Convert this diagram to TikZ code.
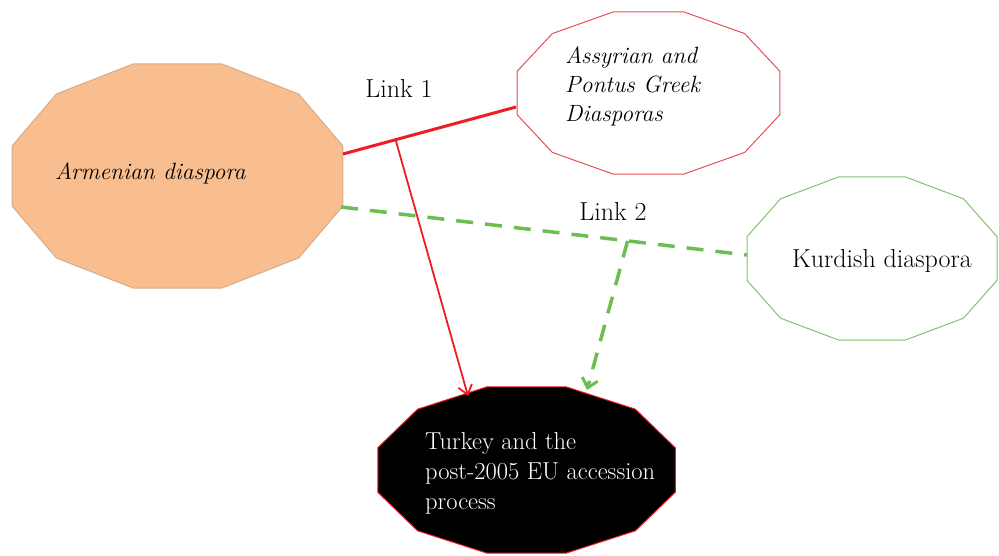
\documentclass[tikz,border=0pt]{standalone}
\usetikzlibrary{arrows.meta,calc}
\definecolor{peach}{RGB}{249,190,143}
\definecolor{peachborder}{RGB}{215,172,138}
\definecolor{redline}{RGB}{238,28,36}
\definecolor{asyborder}{RGB}{228,80,90}
\definecolor{kurborder}{RGB}{130,195,115}
\definecolor{greenline}{RGB}{108,190,80}
\newcommand{\mydodec}[5]{\draw[#5] plot[samples at={15,45,...,345}] ({#1+#3*cos(\x)},{#2+#4*sin(\x)}) -- cycle;}
\begin{document}
\begin{tikzpicture}[x=1pt,y=-1pt,
  lbl/.style={inner sep=0pt, font=\fontsize{26}{29}\selectfont, align=left},
  ilbl/.style={inner sep=0pt, font=\fontsize{23.5}{29}\selectfont\itshape, align=left},
  linkone/.style={draw=redline, line width=3pt},
  redarrow/.style={draw=redline, line width=1.8pt, -{Straight Barb[length=9pt,width=14pt,line width=1.8pt]}},
  greendash/.style={draw=greenline, line width=3.5pt, dash pattern=on 17pt off 12pt},
  greenarrow/.style={draw=greenline, line width=3.5pt, dash pattern=on 17pt off 12pt, -{Straight Barb[length=9pt,width=16pt,line width=3pt]}}]
\useasboundingbox (0,0) rectangle (999,556);
% shapes
\mydodec{177.5}{176}{171.3}{116}{fill=peach, draw=peachborder, line width=1pt}
\mydodec{648.5}{93}{136}{84}{fill=white, draw=asyborder, line width=1pt}
\mydodec{872}{258.5}{129.4}{84.4}{fill=white, draw=kurborder, line width=1pt}
\mydodec{526.5}{470}{154}{86}{fill=black, draw=redline, line width=1pt}
% texts
\node[ilbl, anchor=west] (arm) at (55,173) {Armenian diaspora};
\node[ilbl, anchor=west] (asy) at (565,86) {Assyrian and\\Pontus Greek\\Diasporas};
\node[lbl, anchor=west] (kur) at (792,261) {Kurdish diaspora};
\node[lbl, anchor=west, text=white, font=\fontsize{24.5}{30}\selectfont] (tur) at (425,473) {Turkey and the\\post-2005 EU accession\\process};
\node[lbl] (l1) at (399,88) {Link 1};
\node[lbl] (l2) at (613,211) {Link 2};
% connector points
\coordinate (armR1) at (343,154);
\coordinate (armR2) at (341,207);
\coordinate (asyL) at (516,107);
\coordinate (kurL) at (747,255);
\coordinate (turT1) at (468,396);
\coordinate (turT2) at (587,390);
\coordinate (j1) at ($(armR1)!0.304!(asyL)$);
\coordinate (j2) at ($(armR2)!0.706!(kurL)$);
% connectors
\draw[linkone] (armR1) -- (asyL);
\draw[redarrow] (j1) -- (turT1);
\draw[greendash] (armR2) -- (kurL);
\draw[greenarrow] (j2) -- (turT2);
\end{tikzpicture}
\end{document}
